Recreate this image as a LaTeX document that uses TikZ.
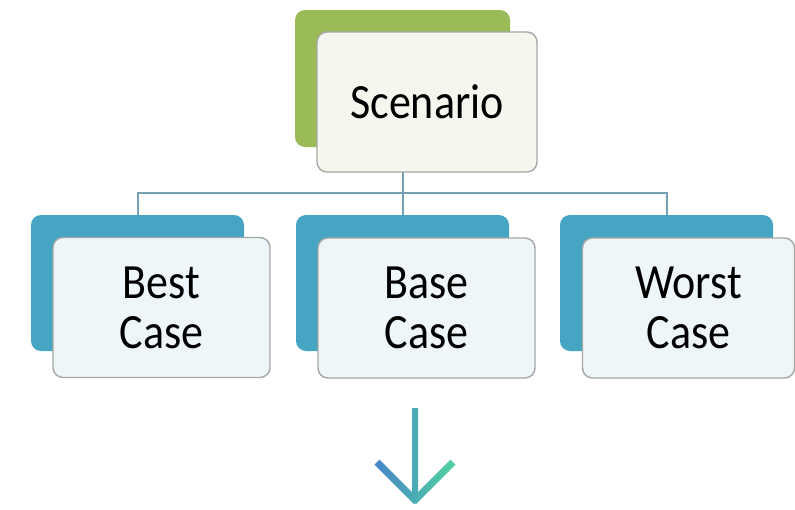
\documentclass[tikz,border=0pt]{standalone}
\usepackage{fontspec}
\setmainfont{Carlito}
\definecolor{gback}{HTML}{9BBB59}
\definecolor{bback}{HTML}{45A5C2}
\definecolor{gfront}{HTML}{F5F7EF}
\definecolor{bfront}{HTML}{EEF6F9}
\definecolor{frame}{HTML}{A4A8A6}
\definecolor{conn}{HTML}{74A2B4}
\definecolor{arA}{HTML}{4682CA}
\definecolor{arB}{HTML}{2FC3B8}
\definecolor{arC}{HTML}{52D69E}
\newcommand{\tallx}[1]{\scalebox{1}[1.12]{#1}}
\tikzset{
  backbox/.style={rectangle, rounded corners=10pt, draw=none, minimum width=213pt, minimum height=136pt, inner sep=0pt},
  frontbox/.style={rectangle, rounded corners=10pt, draw=frame, line width=1.4pt, minimum width=217pt, minimum height=140pt, inner sep=0pt, align=center, font=\fontsize{44}{50}\selectfont},
  connline/.style={draw=conn, line width=2pt}
}
\begin{document}
\begin{tikzpicture}[x=1pt,y=-1pt]
\useasboundingbox[fill=white] (0,0) rectangle (795,509);
% back boxes
\node[backbox, fill=gback, minimum width=215pt, minimum height=137pt] (sback) at (402.5,78.5) {};
\node[backbox, fill=bback] (bestback) at (137.5,283) {};
\node[backbox, fill=bback] (baseback) at (402.5,283) {};
\node[backbox, fill=bback] (worstback) at (666.5,283) {};
% connectors
\coordinate (hub) at (402.5,193);
\draw[connline] (sback.south) -- (hub);
\draw[connline] (hub) -| (bestback.north);
\draw[connline] (hub) -- (baseback.north);
\draw[connline] (hub) -| (worstback.north);
% front boxes
\node[frontbox, fill=gfront, minimum width=220pt] (scen) at (427,102) {\raisebox{-2pt}{\tallx{Scenario}}};
\node[frontbox, fill=bfront] (best) at (161.5,307.5) {\tallx{Best}\\\tallx{Case}};
\node[frontbox, fill=bfront] (base) at (426.5,308) {\tallx{Base}\\\tallx{Case}};
\node[frontbox, fill=bfront, minimum width=212pt] (worst) at (688.5,308) {\tallx{Worst}\\\tallx{Case}};
% arrow
\begin{scope}
\clip (412,408) rectangle (418,500);
\shade[left color=arA, middle color=arB, right color=arC] (372,400) rectangle (458,506);
\end{scope}
\begin{scope}
\clip (379.5,459.5) -- (419,499) -- (414,504) -- (374.5,464.5) -- cycle;
\shade[left color=arA, middle color=arB, right color=arC] (372,400) rectangle (458,506);
\end{scope}
\begin{scope}
\clip (450.5,459.5) -- (411,499) -- (416,504) -- (455.5,464.5) -- cycle;
\shade[left color=arA, middle color=arB, right color=arC] (372,400) rectangle (458,506);
\end{scope}
\end{tikzpicture}
\end{document}
